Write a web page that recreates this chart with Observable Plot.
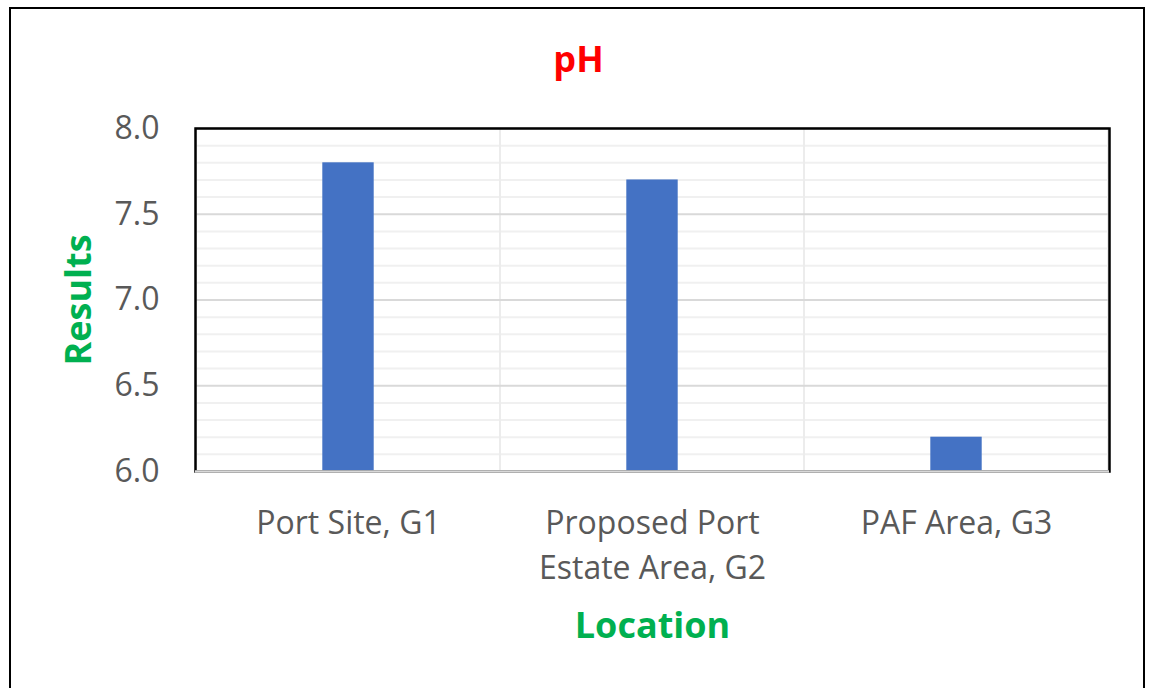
<!DOCTYPE html>
<html>
<head>
<meta charset="utf-8">
<script src="https://cdn.jsdelivr.net/npm/d3@7"></script>
<script src="https://cdn.jsdelivr.net/npm/@observablehq/plot@0.6"></script>
<style>
  html, body { margin: 0; padding: 0; background: #fff; overflow: hidden; width: 1151px; height: 688px; }
  #border { position: absolute; left: 9px; top: 7px; width: 1132px; height: 720px; border: 2px solid #000; }
  #chart { position: absolute; left: 0; top: 0; }
</style>
</head>
<body>
<div id="border"></div>
<div id="chart"></div>
<script>
const categories = ["Port Site, G1", "Proposed Port\nEstate Area, G2", "PAF Area, G3"];
const phValues = [7.8, 7.7, 6.2];
const yTicks = [6.0, 6.5, 7.0, 7.5, 8.0];
const yMinor = d3.range(61, 80).map(v => v / 10).filter(v => Math.round(v * 10) % 5 !== 0);
const title = "pH";
const yLabel = "Results";
const xLabel = "Location";

const chart = Plot.plot({
  width: 1151,
  height: 688,
  marginLeft: 195,
  marginRight: 42,
  marginTop: 128,
  marginBottom: 217,
  style: { fontFamily: "'Open Sans', sans-serif", fontSize: "32px", color: "#595959", background: "transparent" },
  x: { domain: categories, padding: 0, axis: null },
  y: { domain: [6, 8], ticks: yTicks, tickSize: 0, tickPadding: 36, tickFormat: d3.format(".1f"), label: null },
  marks: [
    Plot.ruleY(yMinor, { stroke: "#f0f0f0", strokeWidth: 2 }),
    Plot.barY(categories, { x: d => d, y1: 6, y2: 8, fill: "none", stroke: "#ececec", strokeWidth: 2 }),
    Plot.ruleY(yTicks, { stroke: "#d9d9d9", strokeWidth: 2 }),
    Plot.barY(phValues, { x: (d, i) => categories[i], y1: 6, y2: d => d, fill: "#4472c4", insetLeft: 126.3, insetRight: 126.3 }),
    Plot.frame({ stroke: "#000", strokeWidth: 2.5 }),
    Plot.ruleY([6], { stroke: "#d9d9d9", strokeWidth: 2.5 }),
    Plot.text(categories, { x: d => d, text: d => d, frameAnchor: "bottom", lineAnchor: "top", lineHeight: 1.4, dy: 31, fontSize: 32, fill: "#595959" }),
    Plot.text([title], { frameAnchor: "top", lineAnchor: "middle", textAnchor: "middle", dx: -74, dy: -68, fontSize: 36, fontWeight: "bold", fill: "#ff0000" }),
    Plot.text([yLabel], { frameAnchor: "left", textAnchor: "middle", lineAnchor: "middle", dx: -116, rotate: -90, fontSize: 36, fontWeight: "bold", fill: "#00b050" }),
    Plot.text([xLabel], { frameAnchor: "bottom", lineAnchor: "middle", textAnchor: "middle", dy: 155, fontSize: 36, fontWeight: "bold", fill: "#00b050" })
  ]
});
document.getElementById("chart").appendChild(chart);
</script>
</body>
</html>
